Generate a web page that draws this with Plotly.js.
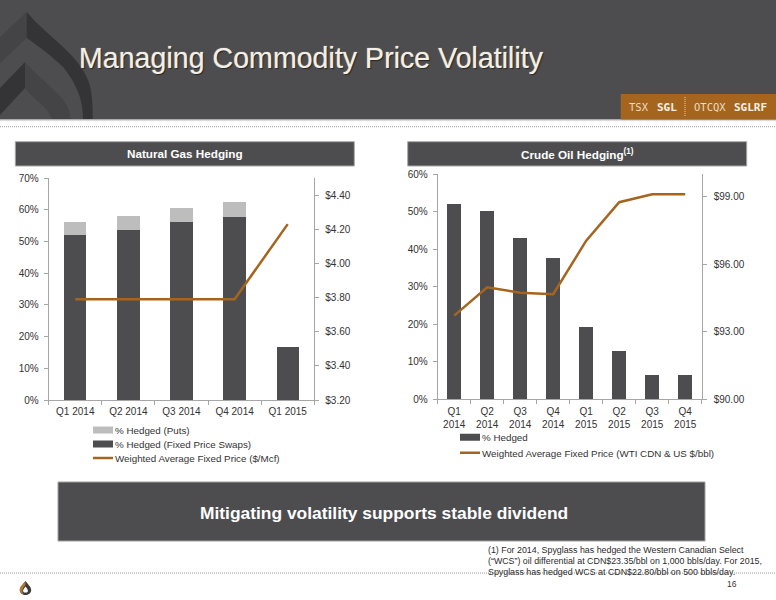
<!DOCTYPE html>
<html>
<head>
<meta charset="utf-8">
<script src="https://cdn.plot.ly/plotly-3.0.1.min.js"></script>
<style>html,body{margin:0;padding:0;background:#fff}#chart{width:776px;height:600px}</style>
</head>
<body>
<div id="chart"></div>
<script>
// ---- data ----
var gasCategories = ['Q1 2014', 'Q2 2014', 'Q3 2014', 'Q4 2014', 'Q1 2015'];
var gasSwaps = [52, 53.6, 56, 57.7, 16.7];
var gasPuts = [4.1, 4.3, 4.6, 4.6, 0];
var gasPrice = [3.79, 3.79, 3.79, 3.79, 4.23];

var oilCategories = ['Q1<br>2014', 'Q2<br>2014', 'Q3<br>2014', 'Q4<br>2014', 'Q1<br>2015', 'Q2<br>2015', 'Q3<br>2015', 'Q4<br>2015'];
var oilHedged = [52.2, 50.2, 42.9, 37.6, 19.4, 13, 6.5, 6.5];
var oilPrice = [93.72, 94.98, 94.74, 94.67, 97.05, 98.76, 99.11, 99.11];

var pageTitle = 'Managing Commodity Price Volatility';
var gasTitle = 'Natural Gas Hedging';
var oilTitle = 'Crude Oil Hedging<sup>(1)</sup>';
var banner = 'Mitigating volatility supports stable dividend';
var footnote = ['(1) For 2014, Spyglass has hedged the Western Canadian Select',
  '(“WCS”) oil differential at CDN$23.35/bbl on 1,000 bbls/day. For 2015,',
  'Spyglass has hedged WCS at CDN$22.80/bbl on 500 bbls/day.'];

// ---- helpers: page pixels to paper fractions ----
var W = 776, H = 600;
function px(x) { return x / W; }
function py(y) { return 1 - y / H; }
var FONT = 'Liberation Sans, Arial, sans-serif';
var DARK = '#4d4d4f', BROWN = '#a5651f', AXIS = '#a6a6a6', TXT = '#333333';

function rect(x0, y0, x1, y1, fill, line) {
  return {type: 'rect', xref: 'paper', yref: 'paper', layer: 'below',
    x0: px(x0), x1: px(x1), y0: py(y0), y1: py(y1),
    fillcolor: fill, line: line ? {color: line, width: 1} : {width: 0}};
}
function hline(x0, x1, y, color, dash) {
  return {type: 'line', xref: 'paper', yref: 'paper', layer: 'below',
    x0: px(x0), x1: px(x1), y0: py(y), y1: py(y), line: {color: color, width: 1, dash: dash || 'solid'}};
}
function path(cmds, fill) {
  var s = cmds.map(function (c) {
    if (c === 'Z') return 'Z';
    var parts = c.slice(1).trim().split(/\s+/).map(function (p) {
      var a = p.split(',');
      return px(+a[0]) + ',' + py(+a[1]);
    });
    return c[0] + parts.join(' ');
  }).join(' ');
  return {type: 'path', xref: 'paper', yref: 'paper', layer: 'below', path: s, fillcolor: fill, line: {width: 0}};
}
function label(x, y, text, size, color, o) {
  o = o || {};
  return {xref: 'paper', yref: 'paper', x: px(x), y: py(y), text: text, showarrow: false,
    xanchor: o.anchor || 'center', yanchor: 'middle', align: o.anchor || 'center',
    borderpad: 0, borderwidth: 0,
    font: {family: o.family || FONT, size: size, color: color, weight: o.weight || 'normal', shadow: o.shadow || 'none'}};
}

// ---- traces ----
var traces = [
  {type: 'bar', name: '% Hedged (Fixed Price Swaps)', x: gasCategories, y: gasSwaps, xaxis: 'x', yaxis: 'y',
    marker: {color: DARK}, width: 0.42, legendrank: 2, hoverinfo: 'y'},
  {type: 'bar', name: '% Hedged (Puts)', x: gasCategories, y: gasPuts, xaxis: 'x', yaxis: 'y',
    marker: {color: '#bdbdbd'}, width: 0.42, legendrank: 1, hoverinfo: 'y'},
  {type: 'scatter', mode: 'lines', name: 'Weighted Average Fixed Price ($/Mcf)', x: gasCategories, y: gasPrice,
    xaxis: 'x', yaxis: 'y2', line: {color: BROWN, width: 2.5}, legendrank: 3},
  {type: 'bar', name: '% Hedged', x: oilCategories, y: oilHedged, xaxis: 'x2', yaxis: 'y3',
    marker: {color: DARK}, width: 0.42, legend: 'legend2', hoverinfo: 'y'},
  {type: 'scatter', mode: 'lines', name: 'Weighted Average Fixed Price (WTI CDN & US $/bbl)', x: oilCategories, y: oilPrice,
    xaxis: 'x2', yaxis: 'y4', line: {color: BROWN, width: 2.5}, legend: 'legend2'}
];

var tickFont = {family: FONT, size: 10, color: TXT};
var axisCommon = {showgrid: false, zeroline: false, showline: true, linecolor: AXIS, linewidth: 1,
  ticks: 'outside', ticklen: 4, tickcolor: AXIS, tickwidth: 1, tickfont: tickFont, fixedrange: true};
function merge(a, b) { return Object.assign({}, a, b); }

// ---- decoration ----
var shapes = [
  rect(0, 0, W, 119.5, DARK),
  hline(0, W, 120, '#b5b5b5'),
  path(['M26.7,12', 'L0,37', 'L0,63', 'L26.7,38', 'Z'], '#444446'),
  path(['M26.7,12', 'C45,34 72,50 84,72', 'C91,84 93,96 92.7,119', 'L83,119', 'C83,98 76,84 64,68', 'C52,56 38,46 26.7,38', 'Z'], '#343436'),
  path(['M25,62', 'L0,88', 'L0,115', 'L25,88', 'Z'], '#343436'),
  path(['M25,62', 'C36,74 48,84 58,94', 'C66,102 70,110 70.7,119', 'L52,119', 'C48,110 42,104 36,100', 'C32,96 28,92 25,88', 'Z'], '#444446'),
  rect(620.7, 94, W, 119.5, BROWN),
  {type: 'line', xref: 'paper', yref: 'paper', x0: px(685), x1: px(685), y0: py(97), y1: py(116),
    line: {color: '#e6d2ae', width: 1, dash: '1px,1px'}},
  hline(0, W, 126.7, '#9a9a9a', '1px,1px'),
  rect(15.3, 141.7, 354.3, 166, DARK, '#a8a8a8'),
  rect(407.7, 141.7, 746.7, 166, DARK, '#a8a8a8'),
  rect(58, 482, 705, 541, DARK, '#a0a0a0'),
  hline(0, W, 573, '#9a9a9a', '1px,1px'),
  path(['M25.5,581', 'C22,585.5 19.5,587.5 19.8,590.5', 'C20.2,593.5 23,595 25.5,595', 'C28,595 30.8,593.5 31.2,590.5', 'C31.5,587.5 29,585.5 25.5,581', 'Z'], '#3a3a3a'),
  path(['M25.5,581', 'C22,585.5 19.5,587.5 19.8,590.5', 'C20.2,592.8 22,594.2 23.5,594.6', 'C21.5,591.5 22.5,588 25.5,585', 'Z'], '#b5782a'),
  path(['M25.5,586.5', 'C23.8,588.6 22.8,590 23.2,591.4', 'C23.7,593 27.3,593 27.8,591.4', 'C28.2,590 27.2,588.6 25.5,586.5', 'Z'], '#ffffff')
];

var annotations = [
  label(311.5, 58, pageTitle, 28.6, '#f2f0e6', {shadow: '1px 1px 1px #262626, 0 0 1px #f2f0e6'}),
  label(184.8, 154, gasTitle, 11.7, '#ffffff', {weight: 'bold'}),
  label(577.2, 154, oilTitle, 11.7, '#ffffff', {weight: 'bold'}),
  label(383.5, 512.5, banner, 17.4, '#ffffff', {weight: 'bold'}),
  label(639, 107, 'TSX', 10.5, '#ecdcc0', {family: 'DejaVu Sans Mono, monospace'}),
  label(667, 107, 'SGL', 11, '#f6f1e6', {family: 'DejaVu Sans Mono, monospace', weight: 'bold'}),
  label(710, 107, 'OTCQX', 10.5, '#ecdcc0', {family: 'DejaVu Sans Mono, monospace'}),
  label(750, 107, 'SGLRF', 11, '#f6f1e6', {family: 'DejaVu Sans Mono, monospace', weight: 'bold'}),
  label(488, 550, footnote[0], 8.85, '#2b2b2b', {anchor: 'left'}),
  label(488, 561, footnote[1], 8.85, '#2b2b2b', {anchor: 'left'}),
  label(488, 572, footnote[2], 8.85, '#2b2b2b', {anchor: 'left'}),
  label(732, 584, '16', 8.5, TXT)
];

var legendCommon = {font: {family: FONT, size: 9.8, color: TXT}, bgcolor: 'rgba(0,0,0,0)', borderwidth: 0,
  traceorder: 'normal', xanchor: 'left', yanchor: 'top', itemclick: false, itemdoubleclick: false, orientation: 'v'};

var layout = {
  width: W, height: H, margin: {l: 0, r: 0, t: 0, b: 0}, paper_bgcolor: '#ffffff', plot_bgcolor: 'rgba(0,0,0,0)',
  barmode: 'stack', showlegend: true, hovermode: false, font: {family: FONT},
  xaxis: merge(axisCommon, {domain: [px(48.7), px(314.3)], anchor: 'y', type: 'category', tickson: 'boundaries', tickangle: 0, ticklabelstandoff: 2}),
  yaxis: merge(axisCommon, {domain: [py(400), py(178)], anchor: 'x', range: [0, 70], dtick: 10, ticksuffix: '%', ticklabelstandoff: 3}),
  yaxis2: merge(axisCommon, {domain: [py(400), py(178)], anchor: 'x', overlaying: 'y', side: 'right', range: [3.2, 4.5], tick0: 3.2, dtick: 0.2, tickformat: '$.2f', ticklabelstandoff: 4}),
  xaxis2: merge(axisCommon, {domain: [px(437.7), px(701.7)], anchor: 'y3', type: 'category', tickson: 'boundaries', tickangle: 0, ticklabelstandoff: 3}),
  yaxis3: merge(axisCommon, {domain: [py(399.3), py(174.3)], anchor: 'x2', range: [0, 60], dtick: 10, ticksuffix: '%', ticklabelstandoff: 3}),
  yaxis4: merge(axisCommon, {domain: [py(399.3), py(174.3)], anchor: 'x2', overlaying: 'y3', side: 'right', range: [90, 100], tick0: 90, dtick: 3, tickformat: '$.2f', ticklabelstandoff: 5}),
  legend: merge(legendCommon, {x: px(75), y: py(415.5)}),
  legend2: merge(legendCommon, {x: px(442), y: py(422.7)}),
  shapes: shapes,
  annotations: annotations
};

Plotly.newPlot('chart', traces, layout, {displayModeBar: false}).then(function () {
  var root = document.getElementById('chart');
  // reference legend keys are wide and flat, and its rows are tighter than Plotly's minimum row height
  root.querySelectorAll('g.legendpoints path').forEach(function (p) {
    p.setAttribute('d', 'M10,3.5H-10V-3.5H10Z');
    p.setAttribute('transform', 'translate(28,0)');
  });
  root.querySelectorAll('g.traces path.js-line').forEach(function (p) {
    p.setAttribute('d', 'M18,0h20');
  });
  root.querySelectorAll('g.scrollbox').forEach(function (box) {
    var rows = box.querySelectorAll('g.traces');
    if (!rows.length) return;
    var step = rows.length === 3 ? 14 : 15.6;
    var m = /translate\(\s*([-\d.]+)[ ,]+([-\d.]+)/.exec(rows[0].getAttribute('transform') || '');
    rows.forEach(function (row, i) {
      row.setAttribute('transform', 'translate(' + m[1] + ',' + (+m[2] + i * step) + ')');
    });
  });
  root.querySelectorAll('text').forEach(function (t) {
    if (!t.textContent.trim()) t.remove();
  });
});
</script>
</body>
</html>
